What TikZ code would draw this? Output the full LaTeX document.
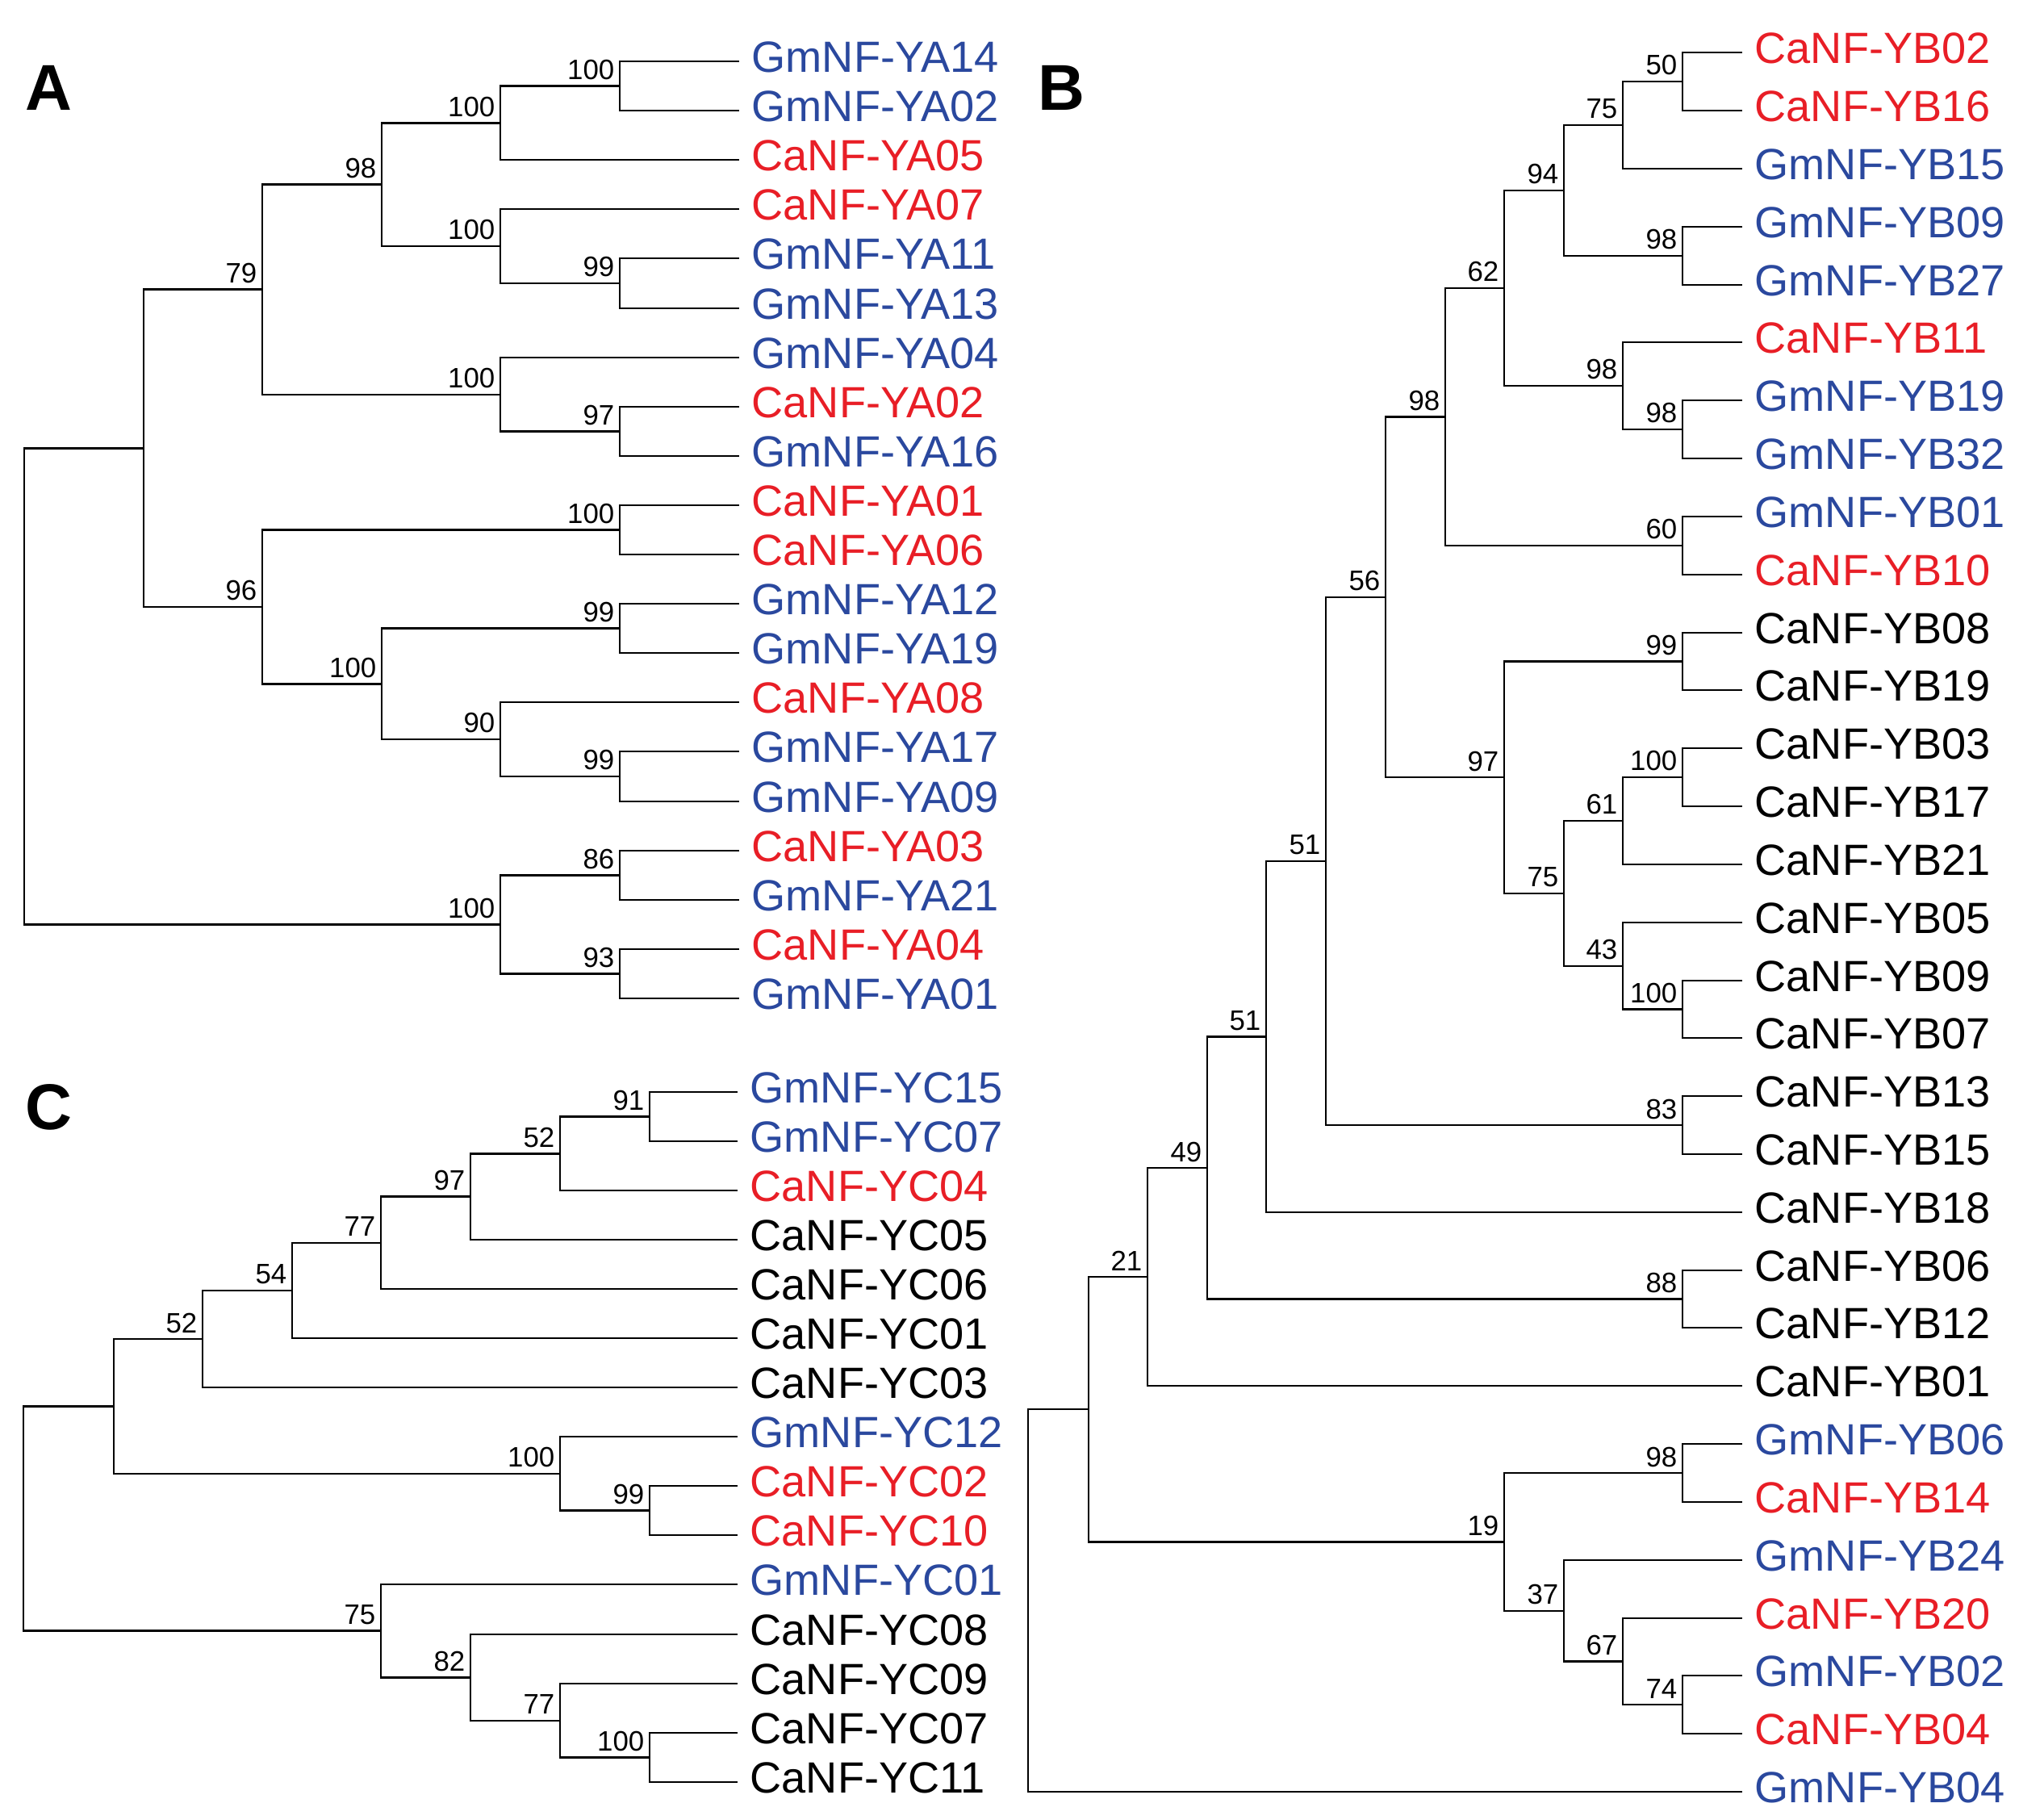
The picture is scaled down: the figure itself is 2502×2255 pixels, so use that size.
\documentclass[tikz,border=0pt]{standalone}
\usepackage{fontspec}
\setmainfont{Liberation Sans}
\definecolor{gmblue}{RGB}{42,72,158}
\definecolor{cared}{RGB}{232,30,38}
\begin{document}
\begin{tikzpicture}[x=0.01cm, y=-0.01cm,
    branch/.style={line width=0.72pt},
    leaf/.style={anchor=west, inner xsep=0.15cm, inner ysep=0pt, text height=0.39cm, text depth=0.13cm, font=\fontsize{15.4pt}{18pt}\selectfont},
    gm/.style={leaf, text=gmblue},
    ca/.style={leaf, text=cared},
    cn/.style={leaf, text=black},
    boot/.style={anchor=base east, inner sep=0pt, xshift=-0.06cm, yshift=0.08cm, font=\fontsize{9.9pt}{11pt}\selectfont},
    panel/.style={font=\fontsize{22.8pt}{26pt}\selectfont\bfseries}]
    \useasboundingbox (0,0) rectangle (2502,2255);
    \node[panel] (pA) at (60,109) {A};
    \node[panel] (pB) at (1315,109) {B};
    \node[panel] (pC) at (60,1372) {C};
    % A
    \node[gm] (gA14) at (916,76) {GmNF-YA14};
    \node[gm] (gA02) at (916,137) {GmNF-YA02};
    \node[ca] (cA05) at (916,198) {CaNF-YA05};
    \node[ca] (cA07) at (916,259) {CaNF-YA07};
    \node[gm] (gA11) at (916,320) {GmNF-YA11};
    \node[gm] (gA13) at (916,382) {GmNF-YA13};
    \node[gm] (gA04) at (916,443) {GmNF-YA04};
    \node[ca] (cA02) at (916,504) {CaNF-YA02};
    \node[gm] (gA16) at (916,565) {GmNF-YA16};
    \node[ca] (cA01) at (916,626) {CaNF-YA01};
    \node[ca] (cA06) at (916,687) {CaNF-YA06};
    \node[gm] (gA12) at (916,748) {GmNF-YA12};
    \node[gm] (gA19) at (916,809) {GmNF-YA19};
    \node[ca] (cA08) at (916,870) {CaNF-YA08};
    \node[gm] (gA17) at (916,931) {GmNF-YA17};
    \node[gm] (gA09) at (916,993) {GmNF-YA09};
    \node[ca] (cA03) at (916,1054) {CaNF-YA03};
    \node[gm] (gA21) at (916,1115) {GmNF-YA21};
    \node[ca] (cA04) at (916,1176) {CaNF-YA04};
    \node[gm] (gA01) at (916,1237) {GmNF-YA01};
    \coordinate (a1) at (768,106.5);
    \coordinate (a2) at (620,152.3);
    \coordinate (a3) at (768,351);
    \coordinate (a4) at (620,305);
    \coordinate (a5) at (473,228.6);
    \coordinate (a6) at (768,534.5);
    \coordinate (a7) at (620,488.8);
    \coordinate (a8) at (325,358.7);
    \coordinate (a9) at (768,656.5);
    \coordinate (a10) at (768,778.5);
    \coordinate (a11) at (768,962);
    \coordinate (a12) at (620,916);
    \coordinate (a13) at (473,847.3);
    \coordinate (a14) at (325,751.9);
    \coordinate (a15) at (178,555.3);
    \coordinate (a16) at (768,1084.5);
    \coordinate (a17) at (768,1206.5);
    \coordinate (a18) at (620,1145.5);
    \coordinate (a0) at (30,850.4);
    \draw[branch] (gA14.west) -| (a1) |- (gA02.west);
    \draw[branch] (a1) -| (a2) |- (cA05.west);
    \draw[branch] (gA11.west) -| (a3) |- (gA13.west);
    \draw[branch] (cA07.west) -| (a4) |- (a3);
    \draw[branch] (a2) -| (a5) |- (a4);
    \draw[branch] (cA02.west) -| (a6) |- (gA16.west);
    \draw[branch] (gA04.west) -| (a7) |- (a6);
    \draw[branch] (a5) -| (a8) |- (a7);
    \draw[branch] (cA01.west) -| (a9) |- (cA06.west);
    \draw[branch] (gA12.west) -| (a10) |- (gA19.west);
    \draw[branch] (gA17.west) -| (a11) |- (gA09.west);
    \draw[branch] (cA08.west) -| (a12) |- (a11);
    \draw[branch] (a10) -| (a13) |- (a12);
    \draw[branch] (a9) -| (a14) |- (a13);
    \draw[branch] (a8) -| (a15) |- (a14);
    \draw[branch] (cA03.west) -| (a16) |- (gA21.west);
    \draw[branch] (cA04.west) -| (a17) |- (gA01.west);
    \draw[branch] (a16) -| (a18) |- (a17);
    \draw[branch] (a15) -| (a0) |- (a18);
    \node[boot] (la1) at (a1) {100};
    \node[boot] (la2) at (a2) {100};
    \node[boot] (la3) at (a3) {99};
    \node[boot] (la4) at (a4) {100};
    \node[boot] (la5) at (a5) {98};
    \node[boot] (la6) at (a6) {97};
    \node[boot] (la7) at (a7) {100};
    \node[boot] (la8) at (a8) {79};
    \node[boot] (la9) at (a9) {100};
    \node[boot] (la10) at (a10) {99};
    \node[boot] (la11) at (a11) {99};
    \node[boot] (la12) at (a12) {90};
    \node[boot] (la13) at (a13) {100};
    \node[boot] (la14) at (a14) {96};
    \node[boot] (la16) at (a16) {86};
    \node[boot] (la17) at (a17) {93};
    \node[boot] (la18) at (a18) {100};
    % B
    \node[ca] (cB02) at (2159,65) {CaNF-YB02};
    \node[ca] (cB16) at (2159,137) {CaNF-YB16};
    \node[gm] (gB15) at (2159,209) {GmNF-YB15};
    \node[gm] (gB09) at (2159,281) {GmNF-YB09};
    \node[gm] (gB27) at (2159,353) {GmNF-YB27};
    \node[ca] (cB11) at (2159,424) {CaNF-YB11};
    \node[gm] (gB19) at (2159,496) {GmNF-YB19};
    \node[gm] (gB32) at (2159,568) {GmNF-YB32};
    \node[gm] (gB01) at (2159,640) {GmNF-YB01};
    \node[ca] (cB10) at (2159,712) {CaNF-YB10};
    \node[cn] (cB08) at (2159,784) {CaNF-YB08};
    \node[cn] (cB19) at (2159,855) {CaNF-YB19};
    \node[cn] (cB03) at (2159,927) {CaNF-YB03};
    \node[cn] (cB17) at (2159,999) {CaNF-YB17};
    \node[cn] (cB21) at (2159,1071) {CaNF-YB21};
    \node[cn] (cB05) at (2159,1143) {CaNF-YB05};
    \node[cn] (cB09) at (2159,1215) {CaNF-YB09};
    \node[cn] (cB07) at (2159,1286) {CaNF-YB07};
    \node[cn] (cB13) at (2159,1358) {CaNF-YB13};
    \node[cn] (cB15) at (2159,1430) {CaNF-YB15};
    \node[cn] (cB18) at (2159,1502) {CaNF-YB18};
    \node[cn] (cB06) at (2159,1574) {CaNF-YB06};
    \node[cn] (cB12) at (2159,1645) {CaNF-YB12};
    \node[cn] (cB01) at (2159,1717) {CaNF-YB01};
    \node[gm] (gB06) at (2159,1789) {GmNF-YB06};
    \node[ca] (cB14) at (2159,1861) {CaNF-YB14};
    \node[gm] (gB24) at (2159,1933) {GmNF-YB24};
    \node[ca] (cB20) at (2159,2005) {CaNF-YB20};
    \node[gm] (gB02) at (2159,2076) {GmNF-YB02};
    \node[ca] (cB04) at (2159,2148) {CaNF-YB04};
    \node[gm] (gB04) at (2159,2220) {GmNF-YB04};
    \coordinate (b1) at (2085,101);
    \coordinate (b2) at (2011,155);
    \coordinate (b3) at (2085,317);
    \coordinate (b4) at (1938,236);
    \coordinate (b5) at (2085,532);
    \coordinate (b6) at (2011,478);
    \coordinate (b7) at (1864,357);
    \coordinate (b8) at (2085,676);
    \coordinate (b9) at (1791,516.5);
    \coordinate (b10) at (2085,819.5);
    \coordinate (b11) at (2085,963);
    \coordinate (b12) at (2011,1017);
    \coordinate (b13) at (2085,1250.5);
    \coordinate (b14) at (2011,1196.8);
    \coordinate (b15) at (1938,1106.9);
    \coordinate (b16) at (1864,963.2);
    \coordinate (b17) at (1717,739.9);
    \coordinate (b18) at (2085,1394);
    \coordinate (b19) at (1643,1066.9);
    \coordinate (b20) at (1569,1284.5);
    \coordinate (b21) at (2085,1609.5);
    \coordinate (b22) at (1496,1447);
    \coordinate (b23) at (1422,1582);
    \coordinate (b24) at (2085,1825);
    \coordinate (b25) at (2085,2112);
    \coordinate (b26) at (2011,2058.5);
    \coordinate (b27) at (1938,1995.8);
    \coordinate (b28) at (1864,1910.4);
    \coordinate (b29) at (1349,1746.2);
    \coordinate (b0) at (1274,1983.1);
    \draw[branch] (cB02.west) -| (b1) |- (cB16.west);
    \draw[branch] (b1) -| (b2) |- (gB15.west);
    \draw[branch] (gB09.west) -| (b3) |- (gB27.west);
    \draw[branch] (b2) -| (b4) |- (b3);
    \draw[branch] (gB19.west) -| (b5) |- (gB32.west);
    \draw[branch] (cB11.west) -| (b6) |- (b5);
    \draw[branch] (b4) -| (b7) |- (b6);
    \draw[branch] (gB01.west) -| (b8) |- (cB10.west);
    \draw[branch] (b7) -| (b9) |- (b8);
    \draw[branch] (cB08.west) -| (b10) |- (cB19.west);
    \draw[branch] (cB03.west) -| (b11) |- (cB17.west);
    \draw[branch] (b11) -| (b12) |- (cB21.west);
    \draw[branch] (cB09.west) -| (b13) |- (cB07.west);
    \draw[branch] (cB05.west) -| (b14) |- (b13);
    \draw[branch] (b12) -| (b15) |- (b14);
    \draw[branch] (b10) -| (b16) |- (b15);
    \draw[branch] (b9) -| (b17) |- (b16);
    \draw[branch] (cB13.west) -| (b18) |- (cB15.west);
    \draw[branch] (b17) -| (b19) |- (b18);
    \draw[branch] (b19) -| (b20) |- (cB18.west);
    \draw[branch] (cB06.west) -| (b21) |- (cB12.west);
    \draw[branch] (b20) -| (b22) |- (b21);
    \draw[branch] (b22) -| (b23) |- (cB01.west);
    \draw[branch] (gB06.west) -| (b24) |- (cB14.west);
    \draw[branch] (gB02.west) -| (b25) |- (cB04.west);
    \draw[branch] (cB20.west) -| (b26) |- (b25);
    \draw[branch] (gB24.west) -| (b27) |- (b26);
    \draw[branch] (b24) -| (b28) |- (b27);
    \draw[branch] (b23) -| (b29) |- (b28);
    \draw[branch] (b29) -| (b0) |- (gB04.west);
    \node[boot] (lb1) at (b1) {50};
    \node[boot] (lb2) at (b2) {75};
    \node[boot] (lb3) at (b3) {98};
    \node[boot] (lb4) at (b4) {94};
    \node[boot] (lb5) at (b5) {98};
    \node[boot] (lb6) at (b6) {98};
    \node[boot] (lb7) at (b7) {62};
    \node[boot] (lb8) at (b8) {60};
    \node[boot] (lb9) at (b9) {98};
    \node[boot] (lb10) at (b10) {99};
    \node[boot] (lb11) at (b11) {100};
    \node[boot] (lb12) at (b12) {61};
    \node[boot] (lb13) at (b13) {100};
    \node[boot] (lb14) at (b14) {43};
    \node[boot] (lb15) at (b15) {75};
    \node[boot] (lb16) at (b16) {97};
    \node[boot] (lb17) at (b17) {56};
    \node[boot] (lb18) at (b18) {83};
    \node[boot] (lb19) at (b19) {51};
    \node[boot] (lb20) at (b20) {51};
    \node[boot] (lb21) at (b21) {88};
    \node[boot] (lb22) at (b22) {49};
    \node[boot] (lb23) at (b23) {21};
    \node[boot] (lb24) at (b24) {98};
    \node[boot] (lb25) at (b25) {74};
    \node[boot] (lb26) at (b26) {67};
    \node[boot] (lb27) at (b27) {37};
    \node[boot] (lb28) at (b28) {19};
    % C
    \node[gm] (gC15) at (914,1353) {GmNF-YC15};
    \node[gm] (gC07) at (914,1414) {GmNF-YC07};
    \node[ca] (cC04) at (914,1475) {CaNF-YC04};
    \node[cn] (cC05) at (914,1536) {CaNF-YC05};
    \node[cn] (cC06) at (914,1597) {CaNF-YC06};
    \node[cn] (cC01) at (914,1658) {CaNF-YC01};
    \node[cn] (cC03) at (914,1719) {CaNF-YC03};
    \node[gm] (gC12) at (914,1780) {GmNF-YC12};
    \node[ca] (cC02) at (914,1841) {CaNF-YC02};
    \node[ca] (cC10) at (914,1902) {CaNF-YC10};
    \node[gm] (gC01) at (914,1963) {GmNF-YC01};
    \node[cn] (cC08) at (914,2025) {CaNF-YC08};
    \node[cn] (cC09) at (914,2086) {CaNF-YC09};
    \node[cn] (cC07) at (914,2147) {CaNF-YC07};
    \node[cn] (cC11) at (914,2208) {CaNF-YC11};
    \coordinate (c1) at (805,1383.5);
    \coordinate (c2) at (694,1429.3);
    \coordinate (c3) at (583,1482.6);
    \coordinate (c4) at (472,1539.8);
    \coordinate (c5) at (362,1598.9);
    \coordinate (c6) at (251,1659);
    \coordinate (c7) at (805,1871.5);
    \coordinate (c8) at (694,1825.8);
    \coordinate (c9) at (141,1742.4);
    \coordinate (c10) at (805,2177.5);
    \coordinate (c11) at (694,2131.8);
    \coordinate (c12) at (583,2078.4);
    \coordinate (c13) at (472,2020.7);
    \coordinate (c0) at (29,1881.5);
    \draw[branch] (gC15.west) -| (c1) |- (gC07.west);
    \draw[branch] (c1) -| (c2) |- (cC04.west);
    \draw[branch] (c2) -| (c3) |- (cC05.west);
    \draw[branch] (c3) -| (c4) |- (cC06.west);
    \draw[branch] (c4) -| (c5) |- (cC01.west);
    \draw[branch] (c5) -| (c6) |- (cC03.west);
    \draw[branch] (cC02.west) -| (c7) |- (cC10.west);
    \draw[branch] (gC12.west) -| (c8) |- (c7);
    \draw[branch] (c6) -| (c9) |- (c8);
    \draw[branch] (cC07.west) -| (c10) |- (cC11.west);
    \draw[branch] (cC09.west) -| (c11) |- (c10);
    \draw[branch] (cC08.west) -| (c12) |- (c11);
    \draw[branch] (gC01.west) -| (c13) |- (c12);
    \draw[branch] (c9) -| (c0) |- (c13);
    \node[boot] (lc1) at (c1) {91};
    \node[boot] (lc2) at (c2) {52};
    \node[boot] (lc3) at (c3) {97};
    \node[boot] (lc4) at (c4) {77};
    \node[boot] (lc5) at (c5) {54};
    \node[boot] (lc6) at (c6) {52};
    \node[boot] (lc7) at (c7) {99};
    \node[boot] (lc8) at (c8) {100};
    \node[boot] (lc10) at (c10) {100};
    \node[boot] (lc11) at (c11) {77};
    \node[boot] (lc12) at (c12) {82};
    \node[boot] (lc13) at (c13) {75};
\end{tikzpicture}
\end{document}
